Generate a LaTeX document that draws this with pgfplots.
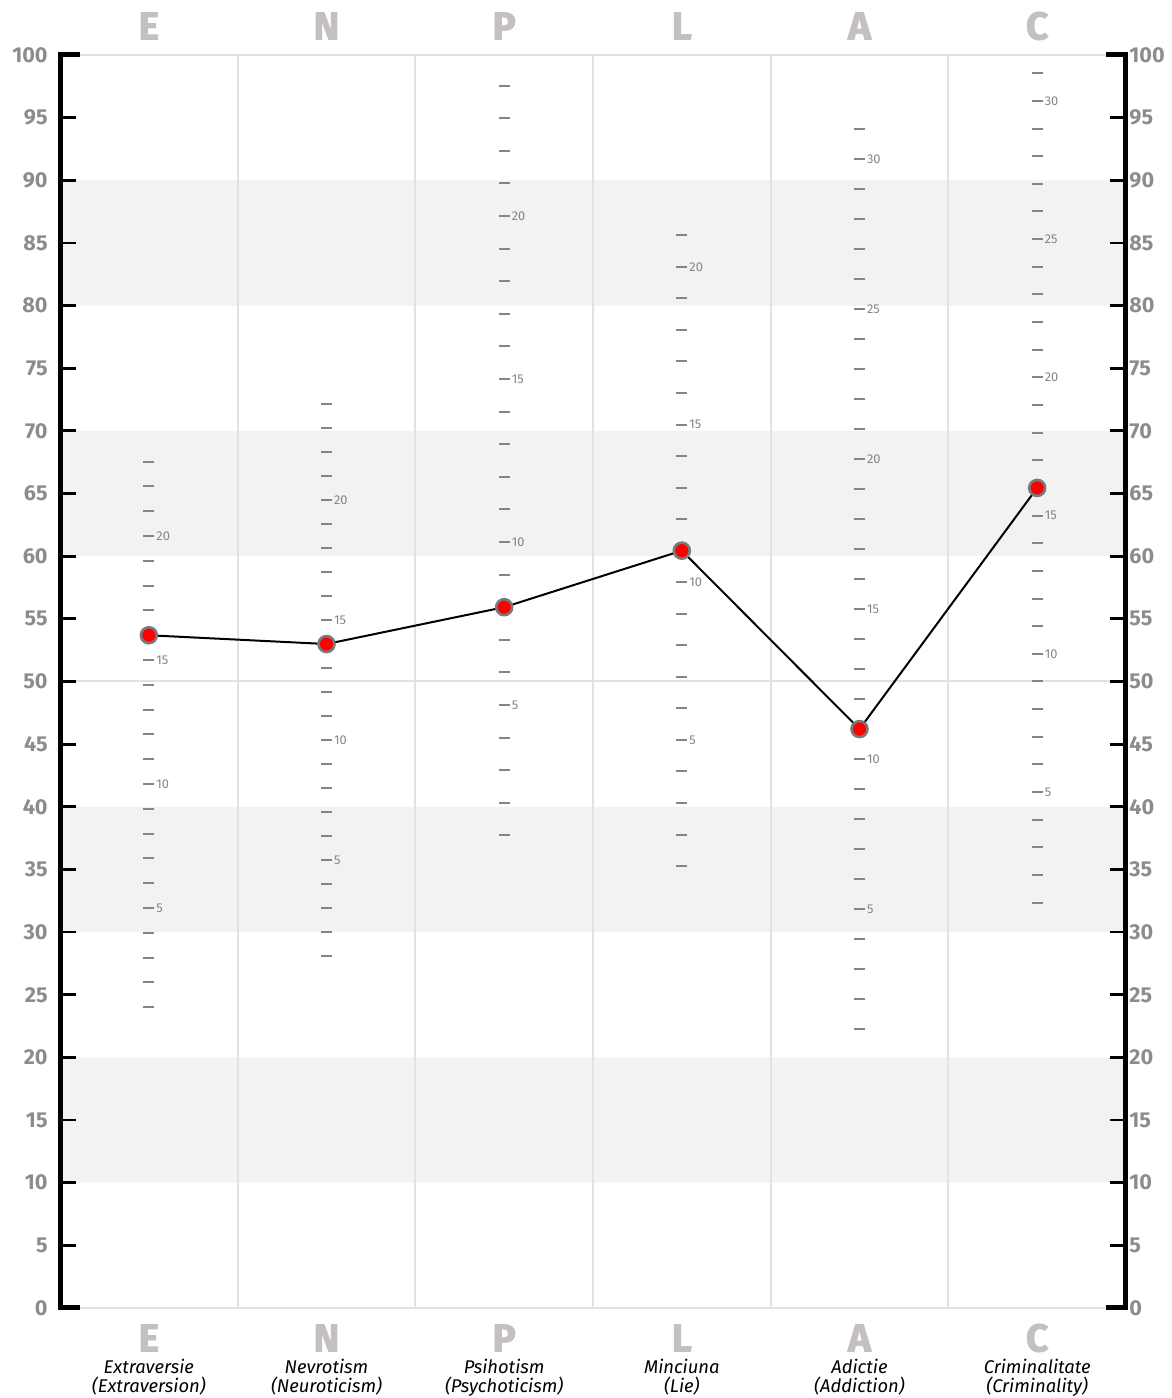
\documentclass[border=0pt]{standalone}
\usepackage{pgfplots}
\pgfplotsset{compat=1.18}
\usepackage{pgfplotstable}
\usepackage{fontspec}
\setmainfont{Fira Sans}
\newfontfamily\heavyfont[FakeBold=2.2]{Fira Sans}

\definecolor{band}{HTML}{F2F2F2}
\definecolor{sep}{HTML}{E2E2E2}
\definecolor{tlab}{HTML}{8C8C8C}
\definecolor{dash}{HTML}{858585}
\definecolor{letter}{HTML}{C4C0C0}
\definecolor{mk}{HTML}{7A7A7A}

% raw score scales inside each column: x, T value, label
\pgfplotstableread{
x y lab
0 24.01 {}
0 25.99 {}
0 27.97 {}
0 29.95 {}
0 31.93 5
0 33.90 {}
0 35.88 {}
0 37.86 {}
0 39.84 {}
0 41.82 10
0 43.80 {}
0 45.78 {}
0 47.76 {}
0 49.74 {}
0 51.72 15
0 53.69 {}
0 55.67 {}
0 57.65 {}
0 59.63 {}
0 61.61 20
0 63.59 {}
0 65.57 {}
0 67.55 {}
1 28.09 {}
1 30.00 {}
1 31.92 {}
1 33.83 {}
1 35.75 5
1 37.67 {}
1 39.58 {}
1 41.50 {}
1 43.41 {}
1 45.33 10
1 47.25 {}
1 49.16 {}
1 51.08 {}
1 52.99 {}
1 54.91 15
1 56.83 {}
1 58.74 {}
1 60.66 {}
1 62.57 {}
1 64.49 20
1 66.41 {}
1 68.32 {}
1 70.24 {}
1 72.15 {}
2 37.71 {}
2 40.31 {}
2 42.92 {}
2 45.52 {}
2 48.12 5
2 50.72 {}
2 53.32 {}
2 55.93 {}
2 58.53 {}
2 61.13 10
2 63.73 {}
2 66.33 {}
2 68.94 {}
2 71.54 {}
2 74.14 15
2 76.74 {}
2 79.34 {}
2 81.95 {}
2 84.55 {}
2 87.15 20
2 89.75 {}
2 92.35 {}
2 94.96 {}
2 97.56 {}
3 35.27 {}
3 37.78 {}
3 40.30 {}
3 42.82 {}
3 45.34 5
3 47.85 {}
3 50.37 {}
3 52.89 {}
3 55.40 {}
3 57.92 10
3 60.44 {}
3 62.95 {}
3 65.47 {}
3 67.99 {}
3 70.51 15
3 73.02 {}
3 75.54 {}
3 78.06 {}
3 80.57 {}
3 83.09 20
3 85.61 {}
4 22.26 {}
4 24.66 {}
4 27.05 {}
4 29.45 {}
4 31.84 5
4 34.23 {}
4 36.63 {}
4 39.02 {}
4 41.42 {}
4 43.81 10
4 46.20 {}
4 48.60 {}
4 50.99 {}
4 53.39 {}
4 55.78 15
4 58.17 {}
4 60.57 {}
4 62.96 {}
4 65.36 {}
4 67.75 20
4 70.14 {}
4 72.54 {}
4 74.93 {}
4 77.33 {}
4 79.72 25
4 82.11 {}
4 84.51 {}
4 86.90 {}
4 89.30 {}
4 91.69 30
4 94.08 {}
5 32.36 {}
5 34.56 {}
5 36.77 {}
5 38.97 {}
5 41.18 5
5 43.39 {}
5 45.59 {}
5 47.80 {}
5 50.00 {}
5 52.21 10
5 54.42 {}
5 56.62 {}
5 58.83 {}
5 61.03 {}
5 63.24 15
5 65.45 {}
5 67.65 {}
5 69.86 {}
5 72.06 {}
5 74.27 20
5 76.48 {}
5 78.68 {}
5 80.89 {}
5 83.09 {}
5 85.30 25
5 87.51 {}
5 89.71 {}
5 91.92 {}
5 94.12 {}
5 96.33 30
5 98.54 {}
}\rawscales

% T scores of the profile
\pgfplotstableread{
x y
0 53.69
1 52.99
2 55.93
3 60.44
4 46.20
5 65.45
}\profile

\begin{document}
\begin{tikzpicture}
\begin{axis}[
    scale only axis,
    width=533pt, height=626.5pt,
    xmin=-0.5, xmax=5.5,
    ymin=0, ymax=100,
    clip=false,
    axis on top,
    separate axis lines,
    x axis line style={draw=none},
    y axis line style={draw=black, line width=2.5pt},
    xtick={0,...,5},
    xticklabels={{Extraversie\\(Extraversion)}, {Nevrotism\\(Neuroticism)},
                 {Psihotism\\(Psychoticism)}, {Minciuna\\(Lie)},
                 {Adictie\\(Addiction)}, {Criminalitate\\(Criminality)}},
    x tick style={draw=none},
    xticklabel style={font=\fontsize{9.2}{9.6}\selectfont\itshape, align=center,
                      anchor=north, inner sep=0pt, yshift=-25.5pt},
    ytick={0,5,...,100},
    ytick pos=both,
    yticklabel pos=left,
    tick align=inside,
    major tick length=8pt,
    y tick style={black, line width=1.4pt},
    /pgf/number format/assume math mode=true,
    yticklabel style={font=\fontsize{10.8}{12}\selectfont\bfseries, text=tlab,
                      anchor=east, inner sep=0pt, xshift=-6pt},
]
% shaded bands
\addplot[draw=none, fill=band] coordinates {(-0.5,10) (5.5,10) (5.5,20) (-0.5,20) (-0.5,10)};
\addplot[draw=none, fill=band] coordinates {(-0.5,30) (5.5,30) (5.5,40) (-0.5,40) (-0.5,30)};
\addplot[draw=none, fill=band] coordinates {(-0.5,60) (5.5,60) (5.5,70) (-0.5,70) (-0.5,60)};
\addplot[draw=none, fill=band] coordinates {(-0.5,80) (5.5,80) (5.5,90) (-0.5,90) (-0.5,80)};
% separators, frame lines and the mid line
\addplot[sep, line width=1pt] coordinates {(0.5,0) (0.5,100)};
\addplot[sep, line width=1pt] coordinates {(1.5,0) (1.5,100)};
\addplot[sep, line width=1pt] coordinates {(2.5,0) (2.5,100)};
\addplot[sep, line width=1pt] coordinates {(3.5,0) (3.5,100)};
\addplot[sep, line width=1pt] coordinates {(4.5,0) (4.5,100)};
\addplot[sep, line width=1pt] coordinates {(-0.5,50) (5.5,50)};
\addplot[sep, line width=1pt] coordinates {(-0.5,100) (5.5,100)};
\addplot[sep, line width=1pt] coordinates {(-0.5,0) (5.5,0)};
% heavy end ticks at 0 and 100 on both spines
\addplot[black, line width=2.5pt] coordinates {(-0.514,100) (-0.387,100)};
\addplot[black, line width=2.5pt] coordinates {(-0.514,0) (-0.387,0)};
\addplot[black, line width=2.5pt] coordinates {(5.387,100) (5.514,100)};
\addplot[black, line width=2.5pt] coordinates {(5.387,0) (5.514,0)};
% raw score scales
\addplot[only marks, mark=-, mark size=2.7pt, mark options={draw=dash, line width=1pt}]
    table[x=x, y=y] {\rawscales};
\addplot[draw=none, mark=none, nodes near coords, point meta=explicit symbolic,
    nodes near coords style={font=\fontsize{6.4}{7}\selectfont, text=dash,
                             anchor=west, inner sep=0pt, xshift=3.6pt}]
    table[x=x, y=y, meta=lab] {\rawscales};
% profile
\addplot[black, line width=1pt, mark=*, mark size=4pt,
    mark options={fill=red, draw=mk, line width=1.3pt}]
    table[x=x, y=y] {\profile};
% scale letters
\begin{scope}[every node/.style={font=\fontsize{19.5}{20}\selectfont\heavyfont\bfseries, text=letter}]
\node at (axis cs:0,100) [yshift=14.5pt] {E};
\node at (axis cs:1,100) [yshift=14.5pt] {N};
\node at (axis cs:2,100) [yshift=14.5pt] {P};
\node at (axis cs:3,100) [yshift=14.5pt] {L};
\node at (axis cs:4,100) [yshift=14.5pt] {A};
\node at (axis cs:5,100) [yshift=14.5pt] {C};
\node at (axis cs:0,0) [yshift=-15pt] {E};
\node at (axis cs:1,0) [yshift=-15pt] {N};
\node at (axis cs:2,0) [yshift=-15pt] {P};
\node at (axis cs:3,0) [yshift=-15pt] {L};
\node at (axis cs:4,0) [yshift=-15pt] {A};
\node at (axis cs:5,0) [yshift=-15pt] {C};
\end{scope}
\end{axis}
% right hand labels
\begin{axis}[
    scale only axis,
    width=533pt, height=626.5pt,
    xmin=-0.5, xmax=5.5,
    ymin=0, ymax=100,
    hide x axis,
    axis y line*=right,
    y axis line style={draw=none},
    ytick={0,5,...,100},
    major tick length=0pt,
    /pgf/number format/assume math mode=true,
    yticklabel style={font=\fontsize{10.8}{12}\selectfont\bfseries, text=tlab,
                      anchor=west, inner sep=0pt, xshift=1.5pt},
]
\end{axis}
\pgfresetboundingbox
\path[use as bounding box] (-30pt,-45pt) rectangle (556pt,654pt);
\end{tikzpicture}
\end{document}
